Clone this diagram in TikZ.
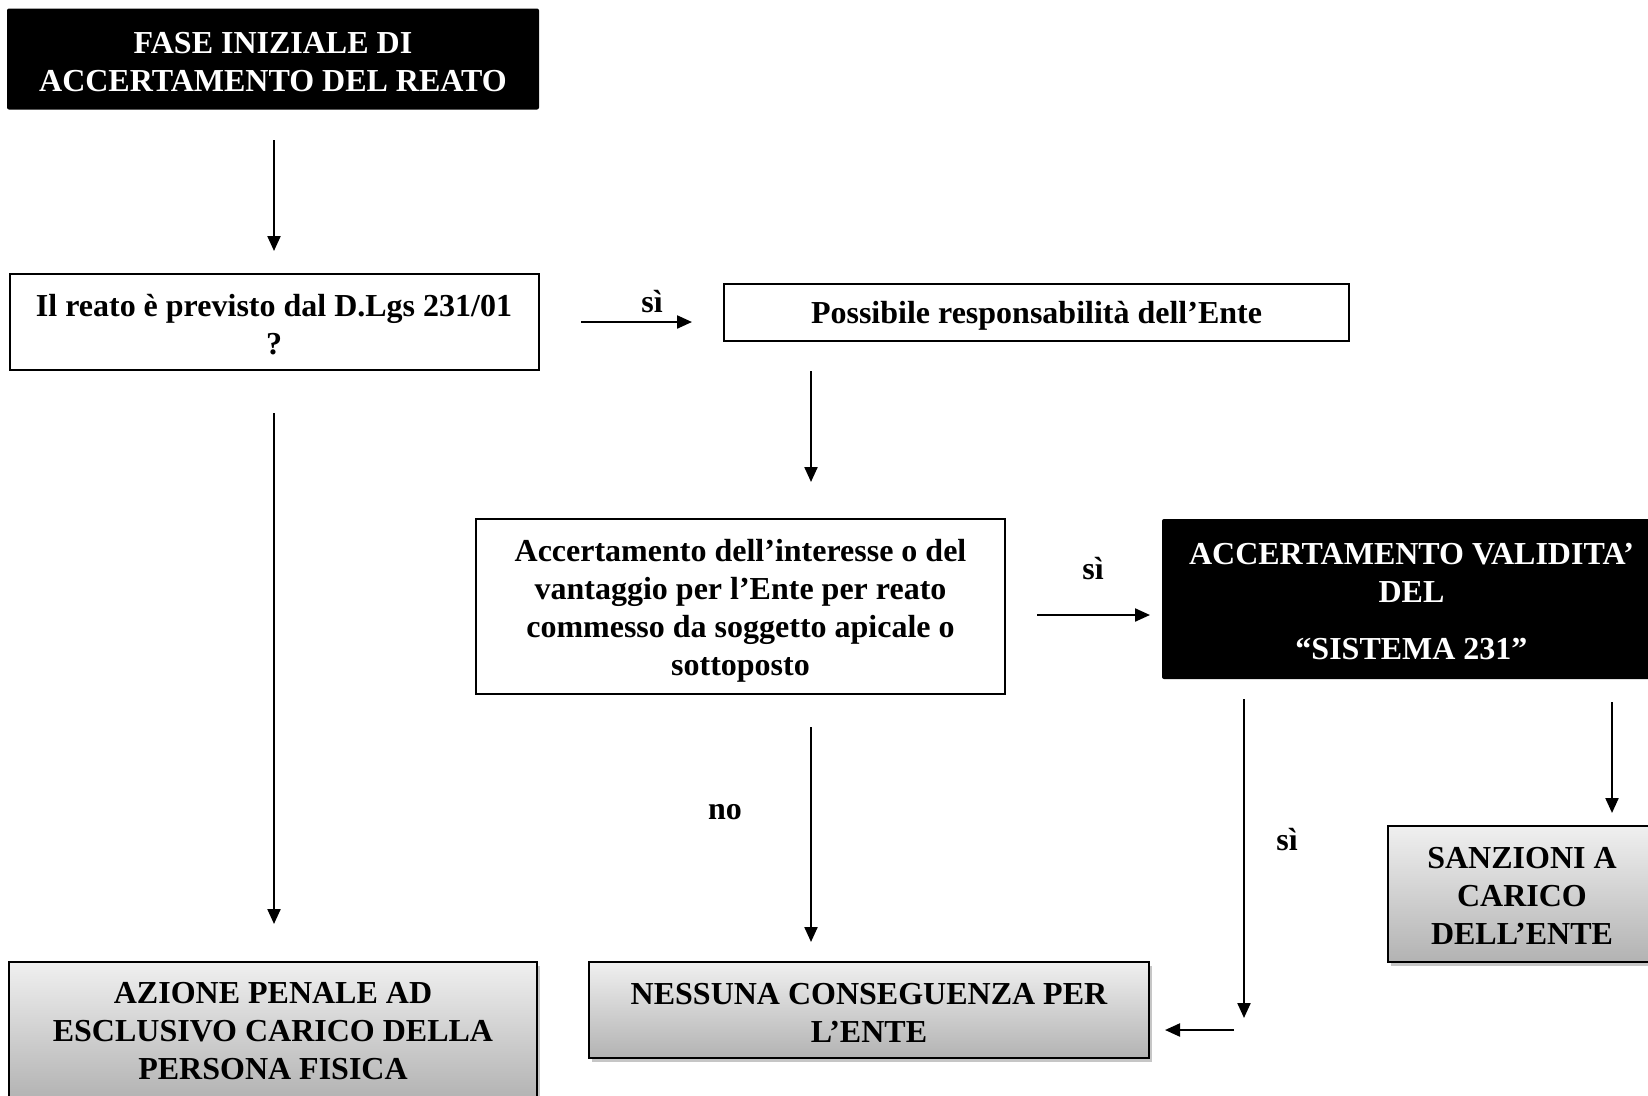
\documentclass[tikz,border=0pt]{standalone}
\usepackage{fontspec}
\setmainfont{Liberation Serif}
\usetikzlibrary{arrows.meta,shadows}
\begin{document}
\begin{tikzpicture}[x=1pt,y=-1pt,
  every node/.style={align=center, inner sep=0pt},
  txt/.style={font=\fontsize{32}{38}\selectfont\bfseries},
  blackbox/.style={fill=black, rounded corners=2pt},
  whitebox/.style={draw=black, line width=2pt, fill=white},
  graybox/.style={draw=black, line width=1.5pt, top color=black!6, bottom color=black!30,
    drop shadow={opacity=0.45, shadow xshift=3pt, shadow yshift=-4pt}},
  arr/.style={line width=2.2pt, -{Triangle[length=15pt,width=13pt]}},
  lbl/.style={font=\fontsize{32}{38}\selectfont\bfseries}
]
\useasboundingbox (0,0) rectangle (1648,1095);
\clip (0,0) rectangle (1648,1095);

% boxes
\node[blackbox, minimum width=532pt, minimum height=101pt] (fase) at (273,59) {};
\node[txt, text=white] (faset) at ([yshift=-3pt]fase.center)
  {FASE INIZIALE DI\\ACCERTAMENTO DEL REATO};
\node[whitebox, minimum width=529pt, minimum height=96pt] (q) at (274,322) {};
\node[txt] (qt) at ([yshift=-3pt]q.center)
  {Il reato è previsto dal D.Lgs 231/01\\?};
\node[whitebox, minimum width=625pt, minimum height=57pt] (poss) at (1036.5,312) {};
\node[txt] (posst) at ([yshift=-4pt]poss.center)
  {Possibile responsabilità dell’Ente};
\node[whitebox, minimum width=529pt, minimum height=175pt] (acc) at (740.5,606.5) {};
\node[txt] (acct) at ([yshift=-4pt]acc.center)
  {Accertamento dell’interesse o del\\vantaggio per l’Ente per reato\\commesso da soggetto apicale o\\sottoposto};
\node[blackbox, minimum width=499pt, minimum height=160pt] (val) at (1411.5,599) {};
\node[txt, text=white] (valt) at ([yshift=-3pt]val.center)
  {ACCERTAMENTO VALIDITA’\\DEL\\[19pt]“SISTEMA 231”};
\node[graybox, minimum width=268pt, minimum height=136pt] (sanz) at (1522,894) {};
\node[txt] (sanzt) at ([yshift=-2pt]sanz.center)
  {SANZIONI A\\CARICO\\DELL’ENTE};
\node[graybox, minimum width=528pt, minimum height=138pt] (azione) at (273,1031) {};
\node[txt] (azionet) at ([yshift=0pt]azione.center)
  {AZIONE PENALE AD\\ESCLUSIVO CARICO DELLA\\PERSONA FISICA};
\node[graybox, minimum width=560pt, minimum height=96pt] (nessuna) at (869,1010) {};
\node[txt] (nessunat) at ([yshift=-3pt]nessuna.center)
  {NESSUNA CONSEGUENZA PER\\L’ENTE};

% connector end points
\coordinate (a1s) at (274,140);  \coordinate (a1e) at (274,251);
\coordinate (a2s) at (581,322);  \coordinate (a2e) at (692,322);
\coordinate (a3s) at (811,371);  \coordinate (a3e) at (811,482);
\coordinate (a4s) at (1037,615); \coordinate (a4e) at (1150,615);
\coordinate (a5s) at (274,413);  \coordinate (a5e) at (274,924);
\coordinate (a6s) at (811,727);  \coordinate (a6e) at (811,942);
\coordinate (a7s) at (1244,699); \coordinate (a7e) at (1244,1018);
\coordinate (a8s) at (1234,1030);\coordinate (a8e) at (1165,1030);
\coordinate (a9s) at (1612,702); \coordinate (a9e) at (1612,813);

\draw[arr] (a1s) -- (a1e);
\draw[arr] (a2s) -- (a2e);
\draw[arr] (a3s) -- (a3e);
\draw[arr] (a4s) -- (a4e);
\draw[arr] (a5s) -- (a5e);
\draw[arr] (a6s) -- (a6e);
\draw[arr] (a7s) -- (a7e);
\draw[arr] (a8s) -- (a8e);
\draw[arr] (a9s) -- (a9e);

% labels
\node[lbl] (l1) at (652,302) {sì};
\node[lbl] (l2) at (1093,569) {sì};
\node[lbl] (l3) at (725,812) {no};
\node[lbl] (l4) at (1287,840) {sì};
\end{tikzpicture}
\end{document}
